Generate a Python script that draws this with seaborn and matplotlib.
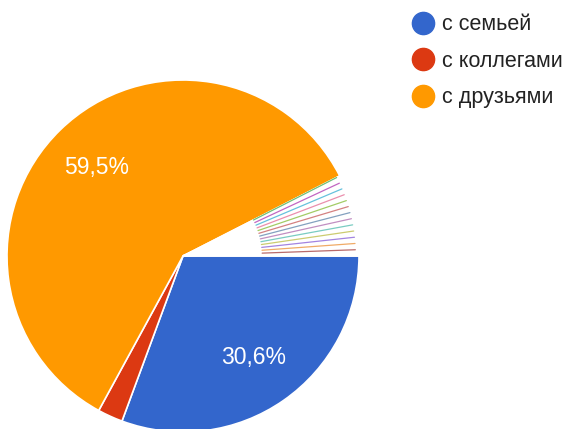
import numpy as np
import matplotlib
matplotlib.use('Agg')
import matplotlib.pyplot as plt
import seaborn as sns
from matplotlib.lines import Line2D

# Ответы (количество), по порядку отрисовки по часовой стрелке
labels = ['с семьей', 'с коллегами', 'с друзьями']
counts = [53, 4, 103]
# Прочие единичные ответы (тонкие сектора)
other_counts = [1] * 13

colors = ['#3366cc', '#dc3912', '#ff9900']
other_colors = ['#109618', '#990099', '#0099c6', '#dd4477', '#66aa00', '#b82e2e',
                '#316395', '#994499', '#22aa99', '#aaaa11', '#6633cc', '#e67300', '#8b0707']

sns.set_theme(style='white')
plt.rcParams['font.family'] = ['Liberation Sans', 'DejaVu Sans']

fig = plt.figure(figsize=(5.74, 4.29), dpi=100)
ax = fig.add_axes([0, 0, 1, 1])

values = counts + other_counts
wedges, texts, autotexts = ax.pie(
    values,
    colors=colors + ['white'] * len(other_counts),
    startangle=0, counterclock=False,
    autopct=lambda p: ('%.1f%%' % p).replace('.', ',') if p > 5 else '',
    pctdistance=0.7,
    textprops=dict(color='white', fontsize=16.5),
    wedgeprops=dict(edgecolor='white', linewidth=1.2),
)

# тонкие цветные линии на границах маленьких секторов
for w, c in zip(wedges[len(counts):], other_colors):
    a = np.deg2rad(w.theta2)
    ax.plot([0.45 * np.cos(a), 0.98 * np.cos(a)], [0.45 * np.sin(a), 0.98 * np.sin(a)],
            color=c, lw=0.9, alpha=0.6)

ax.set_aspect('equal')
ax.set_xlim(-183 / 176, (574 - 183) / 176)
ax.set_ylim((256 - 429) / 176, 256 / 176)
ax.axis('off')

handles = [Line2D([0], [0], marker='o', linestyle='', markersize=16,
                  markerfacecolor=c, markeredgecolor=c) for c in colors]
fig.legend(handles, labels, loc='upper left', bbox_to_anchor=(395 / 574, 1 + 1 / 429),
           frameon=False, fontsize=15.5, handletextpad=0.3, labelspacing=0.72,
           labelcolor='#222222', handlelength=1.2, borderaxespad=0.3)

fig.savefig('out.png', dpi=100)
